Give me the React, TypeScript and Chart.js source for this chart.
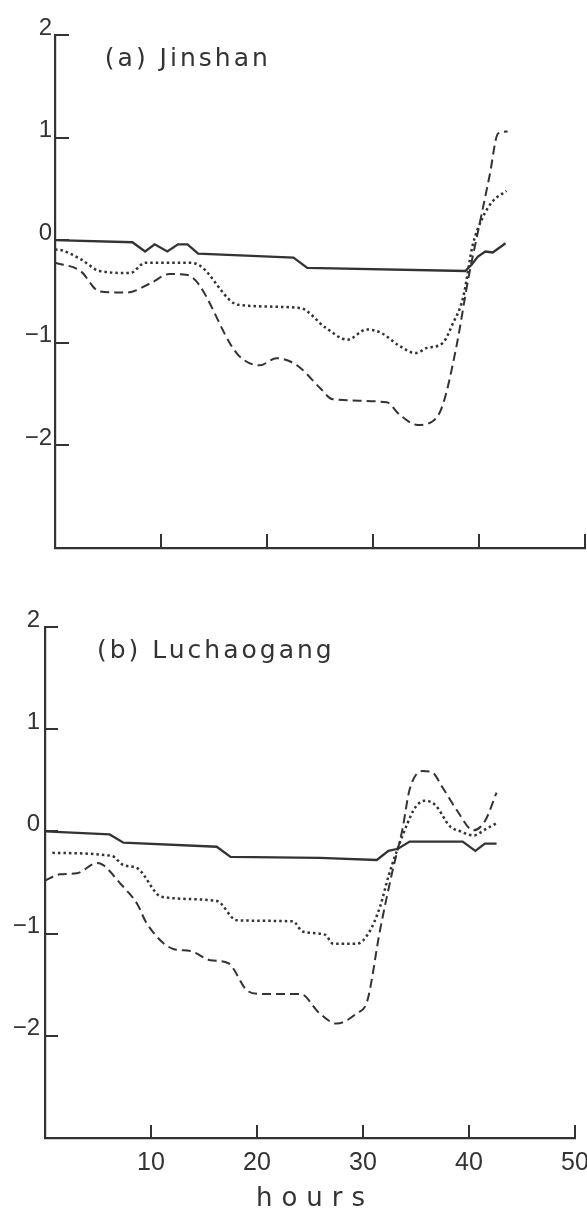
import React, { useEffect, useRef } from "react";
import { Chart, registerables } from "chart.js";

Chart.register(...registerables);

// ---- axis ticks ----
const yTickValues = [2, 1, 0, -1, -2, -3];
const xTickValues = [0, 10, 20, 30, 40, 50];

// ---- (a) Jinshan ----
const jinshanSolidHours = [0, 7.3, 8.5, 9.4, 10.6, 11.6, 12.5, 13.5, 22.5, 23.8, 38.7, 39.3, 39.9, 40.6, 41.3, 42.5];
const jinshanSolidValues = [0, -0.02, -0.11, -0.04, -0.11, -0.04, -0.04, -0.13, -0.17, -0.27, -0.3, -0.24, -0.16, -0.11, -0.12, -0.03];

const jinshanDottedHours = [0, 0.7, 2.5, 4.2, 7.1, 8.5, 12.7, 13.7, 17.3, 23.1, 25.5, 27.6, 29.4, 30.7, 32.5, 34.0, 35.1, 36.6, 37.5, 38.5, 39.4, 40.3, 41.3, 42.6];
const jinshanDottedValues = [-0.09, -0.1, -0.19, -0.3, -0.32, -0.22, -0.22, -0.25, -0.63, -0.66, -0.85, -0.97, -0.87, -0.9, -1.03, -1.1, -1.05, -1.0, -0.82, -0.56, -0.05, 0.21, 0.38, 0.48];

const jinshanDashedHours = [0, 2.4, 4.2, 6.8, 9.0, 10.8, 12.5, 17.3, 19.3, 20.9, 21.9, 23.1, 25.0, 26.2, 31.3, 32.5, 34.2, 35.7, 36.6, 37.9, 39.0, 40.1, 41.0, 41.8, 42.7];
const jinshanDashedValues = [-0.22, -0.3, -0.5, -0.51, -0.42, -0.33, -0.34, -1.12, -1.22, -1.15, -1.17, -1.24, -1.44, -1.55, -1.58, -1.7, -1.8, -1.76, -1.6, -1.02, -0.37, 0.18, 0.63, 1.04, 1.06];

// ---- (b) Luchaogang ----
const luchaogangSolidHours = [0, 6.1, 7.4, 16.2, 17.5, 25.9, 31.3, 32.4, 33.3, 34.4, 39.4, 40.6, 41.5, 42.6];
const luchaogangSolidValues = [0, -0.03, -0.11, -0.15, -0.25, -0.26, -0.28, -0.19, -0.17, -0.1, -0.1, -0.19, -0.12, -0.12];

const luchaogangDottedHours = [0.7, 6.3, 7.4, 8.7, 11.0, 16.2, 18.1, 23.4, 24.3, 26.4, 27.2, 29.4, 30.5, 31.6, 32.4, 33.2, 34.2, 34.9, 35.8, 36.8, 38.2, 39.2, 40.4, 41.7, 42.6];
const luchaogangDottedValues = [-0.21, -0.24, -0.33, -0.36, -0.64, -0.68, -0.87, -0.88, -0.98, -1.01, -1.1, -1.1, -1.0, -0.74, -0.44, -0.19, 0.08, 0.23, 0.3, 0.26, 0.05, 0.0, -0.04, 0.03, 0.08];

const luchaogangDashedHours = [0, 1.4, 3.0, 4.9, 5.5, 7.1, 8.7, 9.6, 12.1, 13.7, 15.6, 17.3, 19.1, 20.3, 24.1, 25.9, 27.5, 29.4, 30.4, 31.6, 32.8, 33.7, 34.4, 35.6, 36.5, 37.5, 38.9, 40.4, 41.5, 42.6];
const luchaogangDashedValues = [-0.48, -0.42, -0.41, -0.31, -0.33, -0.51, -0.71, -0.9, -1.15, -1.17, -1.26, -1.29, -1.56, -1.59, -1.59, -1.78, -1.88, -1.78, -1.66, -0.97, -0.38, 0.01, 0.41, 0.59, 0.58, 0.43, 0.2, 0.01, 0.1, 0.38];

const INK = "#333333";

const toPoints = (hours: number[], values: number[]) =>
  hours.map((h, i) => ({ x: h, y: values[i] }));

const panelDecor = {
  id: "panelDecor",
  afterDraw(chart: any, _args: any, opts: any) {
    const { ctx, chartArea, scales } = chart;
    const xs = scales.x;
    const ys = scales.y;
    ctx.save();
    ctx.strokeStyle = INK;
    ctx.lineWidth = 2;
    ctx.lineCap = "butt";
    // inner tick marks
    ys.ticks.forEach((t: any) => {
      if (t.value === yTickValues[yTickValues.length - 1]) return;
      const y = Math.round(ys.getPixelForValue(t.value));
      ctx.beginPath();
      ctx.moveTo(chartArea.left, y);
      ctx.lineTo(chartArea.left + opts.tickLen, y);
      ctx.stroke();
    });
    xs.ticks.forEach((t: any) => {
      if (t.value === xTickValues[0]) return;
      const x = Math.round(xs.getPixelForValue(t.value));
      ctx.beginPath();
      ctx.moveTo(x, chartArea.bottom);
      ctx.lineTo(x, chartArea.bottom - opts.tickLen);
      ctx.stroke();
    });
    // panel title
    ctx.fillStyle = INK;
    ctx.font = "25px 'DejaVu Sans'";
    (ctx as any).letterSpacing = "3px";
    ctx.textAlign = "left";
    ctx.textBaseline = "alphabetic";
    ctx.fillText(opts.title, xs.getPixelForValue(opts.titleHour), ys.getPixelForValue(opts.titleValue));
    // x-axis title
    if (opts.xTitle) {
      ctx.font = "26px 'DejaVu Sans'";
      (ctx as any).letterSpacing = "9px";
      ctx.textAlign = "center";
      ctx.fillText(opts.xTitle, xs.getPixelForValue(opts.xTitleHour) + 5, chartArea.bottom + opts.xTitleOffset);
    }
    ctx.restore();
  },
};

function makeConfig(
  solid: { x: number; y: number }[],
  dotted: { x: number; y: number }[],
  dashed: { x: number; y: number }[],
  o: {
    yWidth: number;
    xHeight: number;
    padTop: number;
    padRight: number;
    yPad: number;
    showXLabels: boolean;
    decor: any;
  }
): any {
  const lineBase = {
    borderColor: INK,
    pointRadius: 0,
    fill: false,
    spanGaps: true,
  };
  return {
    type: "line",
    data: {
      datasets: [
        { ...lineBase, label: "solid", data: solid, borderWidth: 2.3, tension: 0 },
        { ...lineBase, label: "dotted", data: dotted, borderWidth: 2.5, borderDash: [2.5, 3], cubicInterpolationMode: "monotone" },
        { ...lineBase, label: "dashed", data: dashed, borderWidth: 2, borderDash: [9, 5], cubicInterpolationMode: "monotone" },
      ],
    },
    options: {
      responsive: false,
      animation: false,
      devicePixelRatio: 1,
      layout: { padding: { top: o.padTop, right: o.padRight, left: 0, bottom: 0 } },
      plugins: {
        legend: { display: false },
        tooltip: { enabled: false },
        title: { display: false },
        panelDecor: o.decor,
      },
      scales: {
        x: {
          type: "linear",
          min: xTickValues[0],
          max: xTickValues[xTickValues.length - 1],
          afterBuildTicks: (scale: any) => {
            scale.ticks = xTickValues.map((v) => ({ value: v }));
          },
          afterFit: (scale: any) => {
            scale.height = o.xHeight;
            scale.paddingLeft = 0;
            scale.paddingRight = 0;
          },
          grid: { display: false, drawTicks: false },
          border: { display: true, color: INK, width: 2.2 },
          ticks: {
            display: o.showXLabels,
            autoSkip: false,
            maxRotation: 0,
            padding: 10,
            color: INK,
            font: { family: "Liberation Sans", size: 25 },
            callback: (v: number) => (v === xTickValues[0] ? "" : String(v)),
          },
        },
        y: {
          type: "linear",
          min: yTickValues[yTickValues.length - 1],
          max: yTickValues[0],
          afterBuildTicks: (scale: any) => {
            scale.ticks = [...yTickValues].reverse().map((v) => ({ value: v }));
          },
          afterFit: (scale: any) => {
            scale.width = o.yWidth;
            scale.paddingTop = 0;
            scale.paddingBottom = 0;
          },
          grid: { display: false, drawTicks: false },
          border: { display: true, color: INK, width: 2.2 },
          ticks: {
            autoSkip: false,
            padding: o.yPad,
            labelOffset: -7,
            color: INK,
            font: { family: "Liberation Sans", size: 24 },
            callback: (v: number) =>
              v === yTickValues[yTickValues.length - 1] ? "" : v < 0 ? "\u2212" + Math.abs(v) : String(v),
          },
        },
      },
    },
    plugins: [panelDecor],
  };
}

export default function App() {
  const topRef = useRef<HTMLCanvasElement | null>(null);
  const bottomRef = useRef<HTMLCanvasElement | null>(null);

  useEffect(() => {
    const charts: Chart[] = [];
    if (topRef.current) {
      charts.push(
        new Chart(
          topRef.current,
          makeConfig(
            toPoints(jinshanSolidHours, jinshanSolidValues),
            toPoints(jinshanDottedHours, jinshanDottedValues),
            toPoints(jinshanDashedHours, jinshanDashedValues),
            {
              yWidth: 55,
              xHeight: 52,
              padTop: 35,
              padRight: 2,
              yPad: 3,
              showXLabels: false,
              decor: { tickLen: 14, title: "(a) Jinshan", titleHour: 4.7, titleValue: 1.7 },
            }
          )
        )
      );
    }
    if (bottomRef.current) {
      charts.push(
        new Chart(
          bottomRef.current,
          makeConfig(
            toPoints(luchaogangSolidHours, luchaogangSolidValues),
            toPoints(luchaogangDottedHours, luchaogangDottedValues),
            toPoints(luchaogangDashedHours, luchaogangDashedValues),
            {
              yWidth: 45,
              xHeight: 73,
              padTop: 27,
              padRight: 12,
              yPad: 5,
              showXLabels: true,
              decor: {
                tickLen: 13,
                title: "(b) Luchaogang",
                titleHour: 4.9,
                titleValue: 1.7,
                xTitle: "hours",
                xTitleHour: 25,
                xTitleOffset: 68,
              },
            }
          )
        )
      );
    }
    return () => charts.forEach((c) => c.destroy());
  }, []);

  return (
    <div style={{ position: "absolute", left: 0, top: 0, width: 587, height: 1211, background: "#fff" }}>
      <canvas ref={topRef} width={587} height={600} style={{ position: "absolute", left: 0, top: 0, width: 587, height: 600 }} />
      <canvas ref={bottomRef} width={587} height={611} style={{ position: "absolute", left: 0, top: 600, width: 587, height: 611 }} />
    </div>
  );
}
